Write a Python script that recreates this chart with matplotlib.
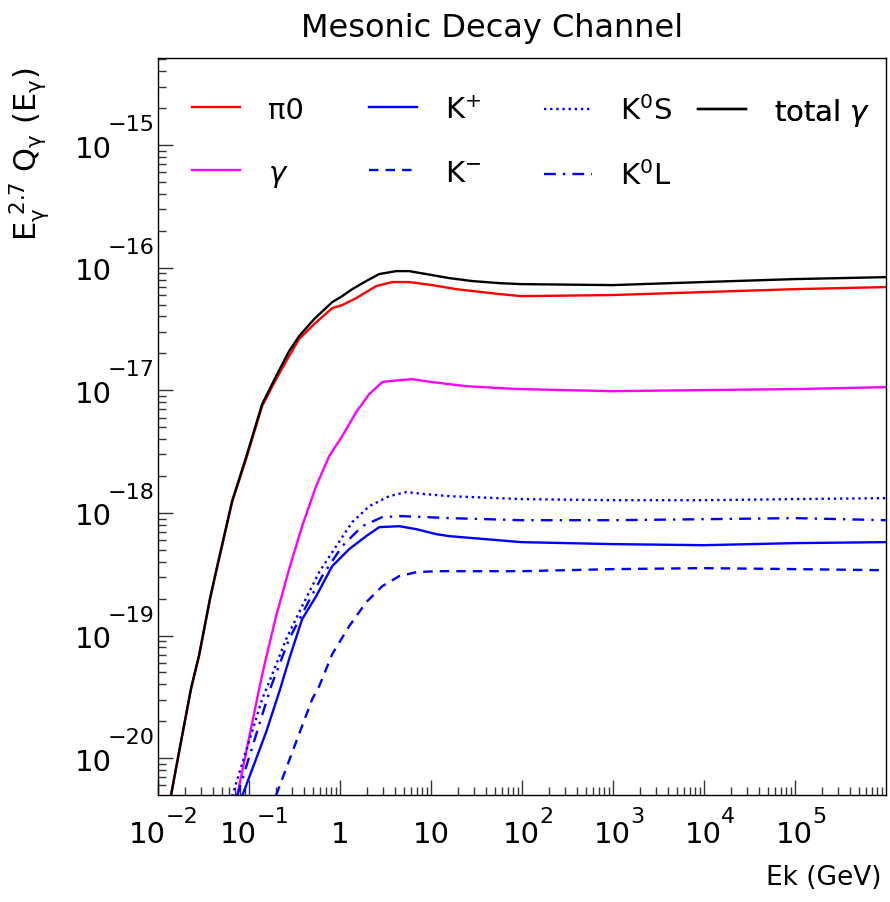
import numpy as np
import matplotlib
matplotlib.use('Agg')
import matplotlib.pyplot as plt
from matplotlib.ticker import FixedLocator, LogLocator, NullFormatter
from matplotlib.transforms import offset_copy, blended_transform_factory

plt.rcParams['font.family'] = ['DejaVu Sans']
plt.rcParams['mathtext.fontset'] = 'dejavusans'

# curves, stored as log10(Ek/GeV) and log10(E^2.7 Q)
lx_pi0 = [-1.857, -1.769, -1.637, -1.549, -1.428, -1.362, -1.186, -1.032, -0.856, -0.702,
          -0.559, -0.449, -0.284, -0.086, 0.024, 0.178, 0.398, 0.574, 0.761, 1.014,
          1.278, 1.751, 1.993, 2.994, 3.996, 4.997, 5.998]
ly_pi0 = [-20.302, -19.951, -19.437, -19.168, -18.703, -18.483, -17.912, -17.561, -17.129, -16.909,
          -16.721, -16.582, -16.460, -16.330, -16.305, -16.248, -16.150, -16.117, -16.117, -16.142,
          -16.175, -16.215, -16.232, -16.223, -16.199, -16.175, -16.158]

lx_tot = [-1.857, -1.769, -1.637, -1.549, -1.428, -1.362, -1.186, -1.032, -0.856, -0.702,
          -0.559, -0.449, -0.284, -0.086, 0.024, 0.134, 0.288, 0.431, 0.618, 0.761,
          0.948, 1.201, 1.454, 1.751, 1.993, 2.994, 3.996, 4.997, 5.998]
ly_tot = [-20.302, -19.951, -19.429, -19.160, -18.695, -18.475, -17.904, -17.545, -17.113, -16.884,
          -16.680, -16.558, -16.419, -16.281, -16.232, -16.175, -16.109, -16.052, -16.028, -16.028,
          -16.052, -16.085, -16.109, -16.126, -16.134, -16.142, -16.117, -16.093, -16.077]

lx_gam = [-1.131, -0.889, -0.834, -0.702, -0.559, -0.416, -0.262, -0.119, 0.024, 0.178,
          0.321, 0.464, 0.541, 0.794, 1.014, 1.388, 1.751, 1.993, 2.994, 3.996, 4.997, 5.998]
ly_gam = [-20.310, -19.437, -19.250, -18.842, -18.458, -18.108, -17.781, -17.537, -17.374, -17.178,
          -17.031, -16.933, -16.925, -16.909, -16.933, -16.966, -16.982, -16.990, -17.007, -16.998,
          -16.990, -16.974]

lx_kp = [-1.076, -0.812, -0.658, -0.559, -0.416, -0.262, -0.086, 0.101, 0.288, 0.431,
         0.651, 0.838, 1.058, 1.201, 1.993, 2.994, 3.996, 4.997, 5.998]
ly_kp = [-20.310, -19.788, -19.437, -19.192, -18.866, -18.679, -18.434, -18.295, -18.189, -18.116,
         -18.108, -18.132, -18.173, -18.189, -18.238, -18.254, -18.263, -18.246, -18.238]

lx_km = [-0.702, -0.306, -0.229, -0.086, 0.101, 0.288, 0.464, 0.651, 0.838, 1.058,
         1.993, 2.994, 3.996, 4.997, 5.998]
ly_km = [-20.302, -19.519, -19.413, -19.152, -18.923, -18.728, -18.597, -18.515, -18.483, -18.475,
         -18.475, -18.458, -18.450, -18.458, -18.467]

lx_k0s = [-1.186, -0.856, -0.779, -0.592, -0.416, -0.229, -0.042, 0.134, 0.321, 0.541,
          0.728, 0.948, 1.201, 1.993, 2.994, 3.996, 4.997, 5.998]
ly_k0s = [-20.310, -19.519, -19.380, -19.029, -18.760, -18.483, -18.271, -18.075, -17.945, -17.863,
          -17.830, -17.847, -17.863, -17.887, -17.896, -17.896, -17.887, -17.879]

lx_k0l = [-1.131, -0.757, -0.559, -0.372, -0.196, 0.024, 0.244, 0.464, 0.684, 0.948,
          1.201, 1.993, 2.994, 3.996, 4.997, 5.998]
ly_k0l = [-20.310, -19.413, -19.029, -18.760, -18.515, -18.271, -18.108, -18.034, -18.026, -18.034,
          -18.042, -18.059, -18.059, -18.051, -18.042, -18.059]

x_exps = [-2, -1, 0, 1, 2, 3, 4, 5]
y_exps = [-20, -19, -18, -17, -16, -15]

fig = plt.figure(figsize=(8.9, 9.03), dpi=100)
ax = fig.add_axes([158/890, 107/903, 728/890, 737/903])

def p(lx, ly):
    return 10**np.array(lx), 10**np.array(ly)

lw = 1.7
h_pi0, = ax.plot(*p(lx_pi0, ly_pi0), color='#ff0000', lw=lw, label='\u03c00')
h_gam, = ax.plot(*p(lx_gam, ly_gam), color='#ff00ff', lw=lw, label=r'$\gamma$')
h_kp, = ax.plot(*p(lx_kp, ly_kp), color='#0000ff', lw=lw, label=r'K$^{+}$')
h_km, = ax.plot(*p(lx_km, ly_km), color='#0000ff', lw=lw, ls=(0, (4, 3)), label=r'K$^{-}$')
h_k0s, = ax.plot(*p(lx_k0s, ly_k0s), color='#0000ff', lw=lw, ls=(0, (1, 1.6)), label=r'K$^{0}$S')
h_k0l, = ax.plot(*p(lx_k0l, ly_k0l), color='#0000ff', lw=lw, ls=(0, (5, 3, 1, 3)), label=r'K$^{0}$L')
h_tot, = ax.plot(*p(lx_tot, ly_tot), color='black', lw=lw, label=r'total $\gamma$')

ax.set_xscale('log')
ax.set_yscale('log')
ax.set_xlim(1e-2, 1e6)
ax.set_ylim(10**-20.30, 10**-14.29)

ax.xaxis.set_major_locator(FixedLocator([10.0**e for e in x_exps]))
ax.yaxis.set_major_locator(FixedLocator([10.0**e for e in y_exps]))
ax.xaxis.set_minor_locator(LogLocator(base=10, subs=np.arange(2, 10), numticks=50))
ax.yaxis.set_minor_locator(LogLocator(base=10, subs=np.arange(2, 10), numticks=50))
ax.xaxis.set_minor_formatter(NullFormatter())
ax.yaxis.set_minor_formatter(NullFormatter())
ax.tick_params(which='both', direction='in', top=False, right=False,
               labelbottom=False, labelleft=False, color='#333333')
ax.tick_params(which='major', length=11, width=1)
ax.tick_params(which='minor', length=5.5, width=1)
for s in ax.spines.values():
    s.set_linewidth(1.0)

# ROOT style tick labels: "10" with a big exponent
def sup(e):
    return str(e).replace('-', '\u2212')

r = fig.canvas.get_renderer()
xt = blended_transform_factory(ax.transData, ax.transAxes)
yt = blended_transform_factory(ax.transAxes, ax.transData)
for e in x_exps:
    v = 10.0**e
    if e in (0, 1):
        ax.text(v, 0, '1' if e == 0 else '10', fontsize=21, ha='center', va='baseline',
                transform=offset_copy(xt, fig, x=0, y=-47.5, units='dots'))
        continue
    tb = ax.text(v, 0, '10', fontsize=21, ha='left', va='baseline', transform=xt)
    te = ax.text(v, 0, sup(e), fontsize=16, ha='left', va='baseline', transform=xt)
    wb = tb.get_window_extent(r).width
    we = te.get_window_extent(r).width
    x0 = 6 - (wb + we) / 2
    tb.set_transform(offset_copy(xt, fig, x=x0, y=-47.5, units='dots'))
    te.set_transform(offset_copy(xt, fig, x=x0 + wb, y=-27, units='dots'))
for e in y_exps:
    v = 10.0**e
    ax.text(0, v, '10', fontsize=21, ha='right', va='baseline',
            transform=offset_copy(yt, fig, x=-46, y=-11.5, units='dots'))
    ax.text(0, v, sup(e), fontsize=16, ha='right', va='baseline',
            transform=offset_copy(yt, fig, x=-3, y=15, units='dots'))

# legend: one column per legend so the columns sit where ROOT put them
cols = [[h_pi0, h_gam], [h_kp, h_km], [h_k0s, h_k0l], [h_tot]]
col_x = [192, 369, 544, 698]
for hs, cx in zip(cols, col_x):
    lg = ax.legend(handles=hs, frameon=False, fontsize=21, loc='upper left',
                   bbox_to_anchor=((cx - 158) / 728, 0.949), borderpad=0, borderaxespad=0,
                   handlelength=1.65, handletextpad=0.95, labelspacing=1.2)
    ax.add_artist(lg)

fig.text(492/890, 1 - 37/903, 'Mesonic Decay Channel', ha='center', va='baseline', fontsize=23)
fig.text(882/890, 1 - 885/903, 'Ek (GeV)', ha='right', va='baseline', fontsize=19)
fig.text(30/890, 1 - 68/903, r'$\mathrm{E_{\gamma}^{\ 2.7}\ Q_{\gamma}\ (E_{\gamma})}$', rotation=90,
         ha='center', va='top', fontsize=22)

fig.savefig('out.png', dpi=100)
